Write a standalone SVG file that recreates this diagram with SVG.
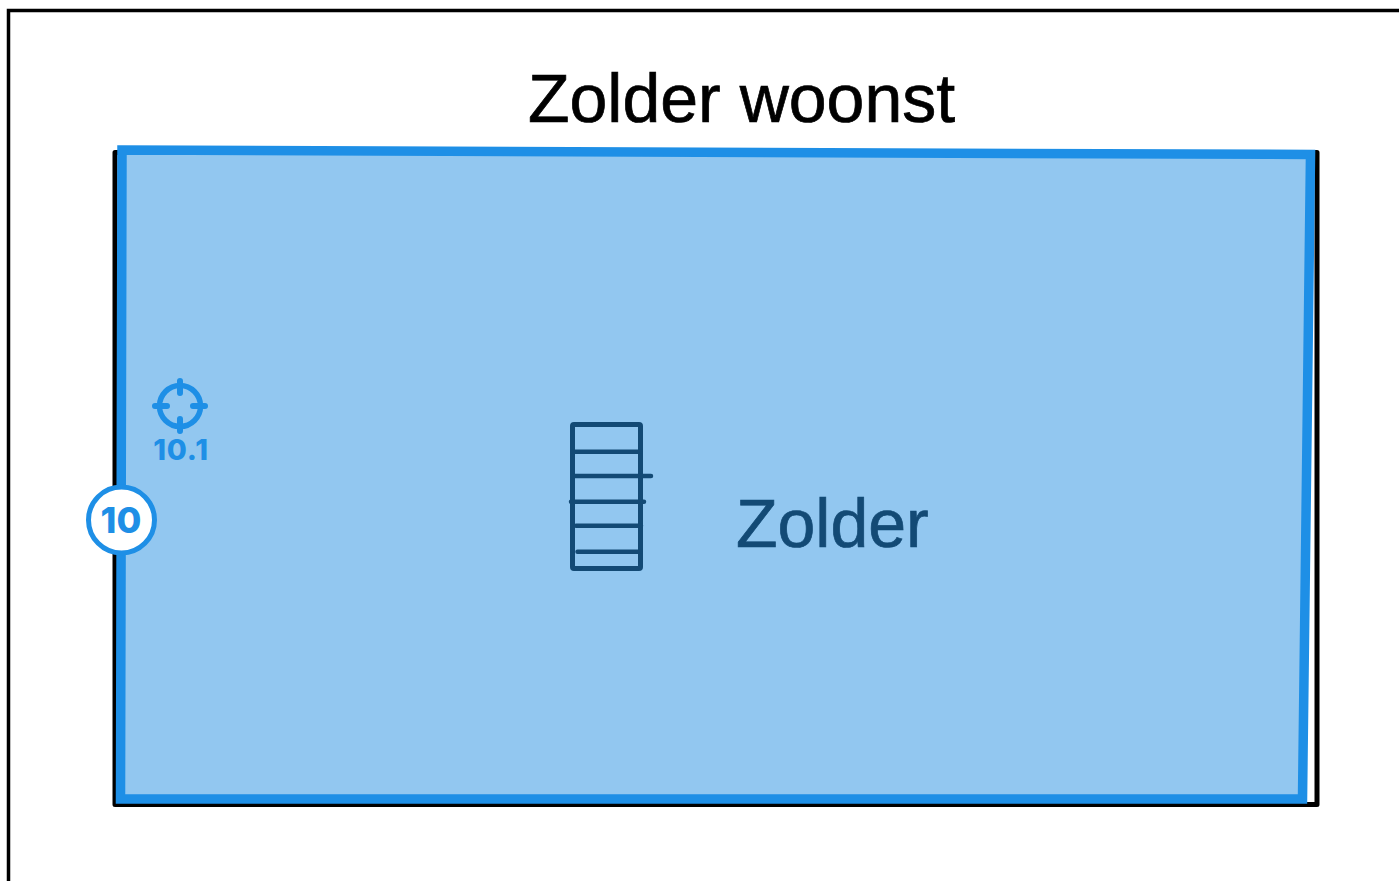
<svg xmlns="http://www.w3.org/2000/svg" width="1399" height="881" viewBox="0 0 1399 881">
<style>
.frame{fill:none;stroke:#000;stroke-linejoin:round;stroke-linecap:round}
.dark{fill:none;stroke:#134a75;stroke-width:5;stroke-linecap:round;stroke-linejoin:round}
.blue{fill:none;stroke:#1e8fe6}
.label{font-family:"Inter","Noto Sans",sans-serif;font-weight:800;fill:#1e8fe6;text-anchor:middle}
.name{font-family:"Liberation Sans",Arial,sans-serif;font-size:68px;stroke-width:.7}
</style>
<rect width="1399" height="881" fill="#fff"/>
<path d="M8.500 890V10.500H1410" fill="none" stroke="#000" stroke-width="3.500"/>
<text id="title" class="name" x="528" y="122" fill="#000" stroke="#000">Zolder woonst</text>
<g id="room">
<rect class="frame" x="115" y="152.500" width="1202" height="652" stroke-width="5"/>
<path d="M122 150 L1310.500 154.500 L1302.500 799 L120.500 799 Z" fill="#92c7f0" stroke="#1e8fe6" stroke-width="9.500" stroke-linejoin="miter"/>
<text class="name" x="736" y="547" fill="#134a75" stroke="#134a75">Zolder</text>
</g>
<g id="ladder">
<rect class="dark" x="572.500" y="424.500" width="68" height="144" rx="1.500"/>
<path class="dark" d="M573 451.700H640M573 476H651M571 501.700H644M576 525.700H641M577.500 551.700H640" style="stroke-width:4.500"/>
</g>
<g id="marker-10-1">
<circle class="blue" cx="180" cy="406" r="20.500" stroke-width="5.500"/>
<path class="blue" stroke-width="6" stroke-linecap="round" d="M155 406H167M193 406H205M180 381V393M180 419V431"/>
<text class="label" x="181" y="459.500" font-size="29" letter-spacing=".8">10.1</text>
</g>
<g id="badge-10">
<circle cx="121.500" cy="520" r="33" fill="#fff" stroke="#1e8fe6" stroke-width="5"/>
<text class="label" x="121" y="533" font-size="36">10</text>
</g>
<g id="connectors"/>
</svg>
